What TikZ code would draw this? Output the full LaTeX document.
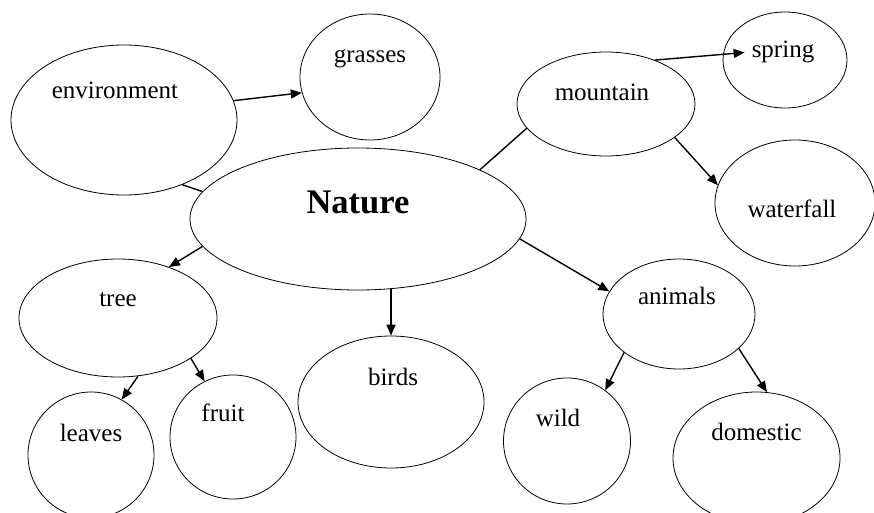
\documentclass[tikz,border=0pt]{standalone}
\usepackage{fontspec}
\setmainfont{Liberation Serif}
\usetikzlibrary{shapes.geometric,arrows.meta}
\begin{document}
\begin{tikzpicture}[x=1pt,y=-1pt]
        \tikzstyle{bubble}=[ellipse, draw, line width=0.8pt, inner sep=0pt];
        \tikzstyle{word}=[font=\fontsize{25}{30}\selectfont, inner sep=1pt];
        \tikzstyle{link}=[line width=1.4pt, -{Triangle[length=11pt,width=9pt]}];
        \clip (0,0) rectangle (874,513);
        \node[bubble, minimum width=336pt, minimum height=142pt, label={[word, font=\fontsize{34.5}{40}\selectfont\bfseries, yshift=17pt]center:Nature}] (nature) at (358,219) {};
        \node[bubble, minimum width=226pt, minimum height=150pt, label={[word, xshift=-9pt, yshift=30pt]center:environment}] (env) at (124,120) {};
        \node[bubble, minimum width=140pt, minimum height=126pt, label={[word, yshift=18pt]center:grasses}] (grass) at (370,77) {};
        \node[bubble, minimum width=178pt, minimum height=104pt, label={[word, xshift=-4pt, yshift=12pt]center:mountain}] (mount) at (606,104) {};
        \node[bubble, minimum width=124pt, minimum height=96pt, label={[word, name=springtxt, xshift=-2pt, yshift=8pt]center:spring}] (spring) at (785,60) {};
        \node[bubble, minimum width=160pt, minimum height=126pt, label={[word, xshift=-3pt, yshift=-6pt]center:waterfall}] (fall) at (795,203) {};
        \node[bubble, minimum width=198pt, minimum height=118pt, label={[word, yshift=18pt]center:tree}] (tree) at (118,318) {};
        \node[bubble, minimum width=126pt, minimum height=126pt, label={[word, yshift=22pt]center:leaves}] (leaves) at (91,455) {};
        \node[bubble, minimum width=126pt, minimum height=124pt, label={[word, xshift=-10pt, yshift=24pt]center:fruit}] (fruit) at (233,437) {};
        \node[bubble, minimum width=186pt, minimum height=132pt, label={[word, xshift=2pt, yshift=25pt]center:birds}] (birds) at (391,402) {};
        \node[bubble, minimum width=152pt, minimum height=110pt, label={[word, xshift=-2pt, yshift=18pt]center:animals}] (animals) at (679,314) {};
        \node[bubble, minimum width=127pt, minimum height=126pt, label={[word, xshift=-9pt, yshift=23pt]center:wild}] (wild) at (567,441) {};
        \node[bubble, minimum width=167pt, minimum height=132pt, label={[word, yshift=26pt]center:domestic}] (dom) at (756.5,458) {};
        % connectors
        \draw[link] (env.10) -- (grass.193);
        \draw[line width=1.4pt] (env.-48) -- (nature.170);
        \draw[line width=1.4pt] (mount.197) -- (nature.22);
        \draw[link, shorten >=6pt] (mount.42) -- (springtxt.west);
        \draw[link] (mount.-26) -- (fall.167);
        \draw[link] (nature.190) -- (tree.45);
        \draw[link] (birds.north |- nature.-64) -- (birds.north);
        \draw[link] (nature.-7) -- (animals.162);
        \draw[link] (tree.-71) -- (leaves.61);
        \draw[link] (tree.-29) -- (fruit.117);
        \draw[link] (animals.215) -- (wild.53);
        \draw[link] (animals.-30) -- (dom.81);
\end{tikzpicture}
\end{document}
